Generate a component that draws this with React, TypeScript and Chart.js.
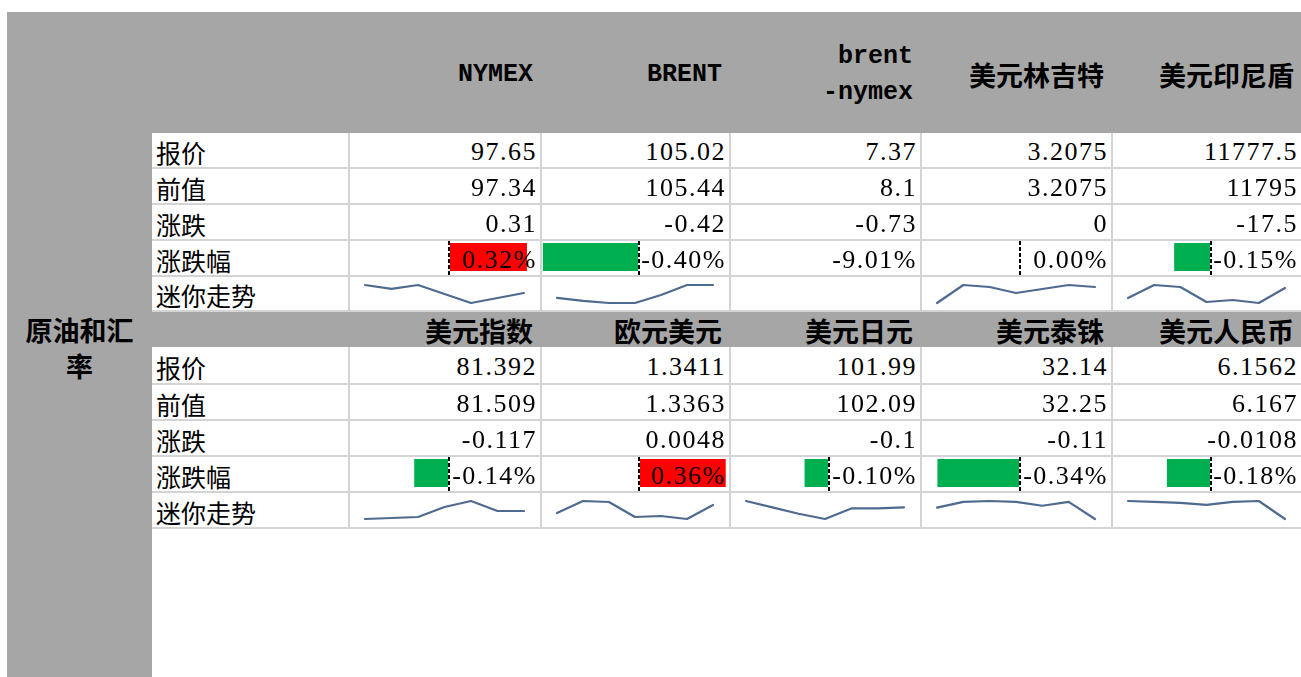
import React, { useEffect, useRef } from "react";
import { Chart, registerables } from "chart.js";
Chart.register(...registerables);

// ---------------- data ----------------
const groupTitleLines = ["原油和汇", "率"];
const rowLabels = ["报价", "前值", "涨跌", "涨跌幅", "迷你走势"];

const g1Names = ["NYMEX", "BRENT", "brent\n-nymex", "美元林吉特", "美元印尼盾"];
const g1Price = [97.65, 105.02, 7.37, 3.2075, 11777.5];
const g1Prev = [97.34, 105.44, 8.1, 3.2075, 11795];
const g1Change = [0.31, -0.42, -0.73, 0, -17.5];
const g1Pct = [0.32, -0.4, -9.01, 0.0, -0.15];
const g1PctBar = [true, true, false, true, true];
const g1Spark: (number[] | null)[] = [
  [98.4, 98.07, 98.4, 97.65, 96.9, 97.32, 97.73],
  [104.62, 104.37, 104.2, 104.2, 104.87, 105.7, 105.7],
  null,
  [3.1898, 3.215, 3.2122, 3.2038, 3.2094, 3.215, 3.2122],
  [11770, 11900, 11880, 11730, 11750, 11720, 11870],
];

const g2Names = ["美元指数", "欧元美元", "美元日元", "美元泰铢", "美元人民币"];
const g2Price = [81.392, 1.3411, 101.99, 32.14, 6.1562];
const g2Prev = [81.509, 1.3363, 102.09, 32.25, 6.167];
const g2Change = [-0.117, 0.0048, -0.1, -0.11, -0.0108];
const g2Pct = [-0.14, 0.36, -0.1, -0.34, -0.18];
const g2PctBar = [true, true, true, true, true];
const g2Spark: (number[] | null)[] = [
  [81.24, 81.26, 81.28, 81.48, 81.6, 81.4, 81.4],
  [1.339, 1.345, 1.3445, 1.337, 1.3375, 1.336, 1.343],
  [102.6, 102.3, 102.0, 101.75, 102.25, 102.25, 102.3],
  [32.295, 32.385, 32.4, 32.385, 32.325, 32.385, 32.115],
  [6.17, 6.169, 6.168, 6.166, 6.169, 6.17, 6.151],
];
const sparkLabels = ["1", "2", "3", "4", "5", "6", "7"];
const pctAxisMin = -0.405;
const pctAxisMax = 0.375;

// ---------------- layout / style ----------------
const GRAY = "#a6a6a6";
const LINE = "#d4d4d4";
const colLeft = [348, 540, 729, 920, 1111];
const colRight = [540, 729, 920, 1111, 1301];
const topRows = [
  { y: 133, h: 34 },
  { y: 169, h: 34 },
  { y: 205, h: 34 },
  { y: 241, h: 34 },
  { y: 277, h: 33 },
];
const botRows = [
  { y: 347, h: 36 },
  { y: 385, h: 34 },
  { y: 421, h: 34 },
  { y: 457, h: 34 },
  { y: 493, h: 34 },
];
const NUM_FONT = "'Liberation Serif', serif";
const HEAD_FONT = "'Liberation Mono', monospace";
const CJK_FONT = "'Noto Sans CJK SC', sans-serif";

function Spark({ values, x, y, w, h }: { values: number[]; x: number; y: number; w: number; h: number }) {
  const ref = useRef<HTMLCanvasElement>(null);
  useEffect(() => {
    const mn = Math.min(...values);
    const mx = Math.max(...values);
    const chart = new Chart(ref.current!, {
      type: "line",
      data: {
        labels: sparkLabels,
        datasets: [
          {
            data: values,
            borderColor: "#4f6a8f",
            borderWidth: 2.2,
            pointRadius: 0,
            tension: 0,
            clip: false as any,
            borderJoinStyle: "round",
            borderCapStyle: "round",
          },
        ],
      },
      options: {
        responsive: false,
        animation: false,
        events: [],
        layout: { padding: { left: 15, right: 16, top: 8, bottom: h - 26 } },
        plugins: { legend: { display: false }, tooltip: { enabled: false } },
        scales: {
          x: { display: false, offset: false },
          y: { display: false, min: mn, max: mx },
        },
      },
    });
    return () => chart.destroy();
  }, []);
  return <canvas ref={ref} width={w} height={h} style={{ position: "absolute", left: x, top: y, width: w, height: h }} />;
}

const axisPlugin = {
  id: "dbAxis",
  afterDatasetsDraw(chart: any) {
    const ctx = chart.ctx;
    const px = Math.round(chart.scales.x.getPixelForValue(0));
    ctx.save();
    ctx.strokeStyle = "#ffffff";
    ctx.lineWidth = 2;
    ctx.beginPath();
    ctx.moveTo(px, 0);
    ctx.lineTo(px, chart.height);
    ctx.stroke();
    ctx.strokeStyle = "#000000";
    ctx.setLineDash([4, 2]);
    ctx.beginPath();
    ctx.moveTo(px, 0);
    ctx.lineTo(px, chart.height);
    ctx.stroke();
    ctx.restore();
  },
};

function DataBar({ value, x, y, w, h }: { value: number; x: number; y: number; w: number; h: number }) {
  const ref = useRef<HTMLCanvasElement>(null);
  useEffect(() => {
    const chart = new Chart(ref.current!, {
      type: "bar",
      data: {
        labels: ["v"],
        datasets: [
          {
            data: [value],
            backgroundColor: value >= 0 ? "#ff0000" : "#00b050",
            borderWidth: 0,
            barPercentage: 1,
            categoryPercentage: 1,
          },
        ],
      },
      options: {
        indexAxis: "y",
        responsive: false,
        animation: false,
        events: [],
        layout: { padding: { left: 0, right: 0, top: 2, bottom: h - 30 } },
        plugins: { legend: { display: false }, tooltip: { enabled: false } },
        scales: {
          x: { display: false, min: pctAxisMin, max: pctAxisMax },
          y: { display: false },
        },
      },
      plugins: [axisPlugin],
    });
    return () => chart.destroy();
  }, []);
  return <canvas ref={ref} width={w} height={h} style={{ position: "absolute", left: x, top: y, width: w, height: h }} />;
}

const fmt = (v: number) => String(v);
const fmtPct = (v: number) => v.toFixed(2) + "%";

function NumCell({ text, x, y, w, h }: { text: string; x: number; y: number; w: number; h: number }) {
  return (
    <div
      style={{
        position: "absolute",
        left: x,
        top: y,
        width: w,
        height: h,
        display: "flex",
        alignItems: "center",
        justifyContent: "flex-end",
        paddingRight: 3,
        paddingTop: 4,
        boxSizing: "border-box",
        font: `26px ${NUM_FONT}`,
        letterSpacing: "1.5px",
        color: "#000",
        whiteSpace: "pre",
        zIndex: 2,
      }}
    >
      {text}
    </div>
  );
}

function Header({ name, x, y, w, h }: { name: string; x: number; y: number; w: number; h: number }) {
  const latin = /^[\x00-\x7f\n]+$/.test(name);
  const lines = name.split("\n");
  return (
    <div
      style={{
        position: "absolute",
        left: x,
        top: y,
        width: w,
        height: h,
        display: "flex",
        flexDirection: "column",
        justifyContent: "center",
        alignItems: "flex-end",
        paddingRight: 7,
        paddingTop: 5,
        boxSizing: "border-box",
        font: latin ? `bold 25px ${HEAD_FONT}` : `bold 27px ${CJK_FONT}`,
        lineHeight: "36px",
        color: "#000",
      }}
    >
      {lines.map((l, i) => (
        <div key={i}>{l}</div>
      ))}
    </div>
  );
}

function Section({
  rows,
  price,
  prev,
  change,
  pct,
  pctBar,
  spark,
}: {
  rows: { y: number; h: number }[];
  price: number[];
  prev: number[];
  change: number[];
  pct: number[];
  pctBar: boolean[];
  spark: (number[] | null)[];
}) {
  const els: any[] = [];
  const top = rows[0].y;
  const bottom = rows[rows.length - 1].y + rows[rows.length - 1].h;
  rows.forEach((r, i) => {
    els.push(
      <div key={"hl" + i} style={{ position: "absolute", left: 152, top: r.y + r.h, width: 1301 - 152, height: 2, background: LINE }} />
    );
    els.push(
      <div
        key={"lab" + i}
        style={{
          position: "absolute",
          left: 152,
          top: r.y,
          width: 196,
          height: r.h,
          display: "flex",
          alignItems: "center",
          paddingLeft: 4,
          paddingTop: 3,
          boxSizing: "border-box",
          font: `25px ${CJK_FONT}`,
          color: "#000",
        }}
      >
        {rowLabels[i]}
      </div>
    );
  });
  colLeft.forEach((cl, c) => {
    els.push(<div key={"vl" + c} style={{ position: "absolute", left: cl, top: top, width: 2, height: bottom - top + 2, background: LINE }} />);
    const x = cl + 2;
    const w = colRight[c] - x;
    const vals = [fmt(price[c]), fmt(prev[c]), fmt(change[c])];
    vals.forEach((t, i) => {
      els.push(<NumCell key={`n${c}_${i}`} text={t} x={x} y={rows[i].y} w={w} h={rows[i].h} />);
    });
    if (pctBar[c]) {
      els.push(<DataBar key={`db${c}`} value={pct[c]} x={x} y={rows[3].y} w={w} h={rows[3].h} />);
    }
    els.push(<NumCell key={`p${c}`} text={fmtPct(pct[c])} x={x} y={rows[3].y} w={w} h={rows[3].h} />);
    const s = spark[c];
    if (s) {
      els.push(<Spark key={`s${c}`} values={s} x={x} y={rows[4].y} w={w} h={rows[4].h} />);
    }
  });
  return <>{els}</>;
}

export default function App() {
  return (
    <div style={{ position: "absolute", left: 0, top: 0, width: 1301, height: 677, background: "#fff", overflow: "hidden" }}>
      <div style={{ position: "absolute", left: 7, top: 12, width: 1301 - 7, height: 121, background: GRAY }} />
      <div style={{ position: "absolute", left: 7, top: 12, width: 145, height: 677 - 12, background: GRAY }} />
      <div style={{ position: "absolute", left: 152, top: 310, width: 1301 - 152, height: 37, background: GRAY }} />
      <div
        style={{
          position: "absolute",
          left: 7,
          top: 312,
          width: 145,
          textAlign: "center",
          font: `bold 27px ${CJK_FONT}`,
          lineHeight: "36px",
          color: "#000",
        }}
      >
        {groupTitleLines.map((l, i) => (
          <div key={i}>{l}</div>
        ))}
      </div>
      {g1Names.map((n, c) => (
        <Header key={"h1" + c} name={n} x={colLeft[c]} y={12} w={colRight[c] - colLeft[c]} h={121} />
      ))}
      {g2Names.map((n, c) => (
        <Header key={"h2" + c} name={n} x={colLeft[c]} y={310} w={colRight[c] - colLeft[c]} h={37} />
      ))}
      <Section rows={topRows} price={g1Price} prev={g1Prev} change={g1Change} pct={g1Pct} pctBar={g1PctBar} spark={g1Spark} />
      <Section rows={botRows} price={g2Price} prev={g2Prev} change={g2Change} pct={g2Pct} pctBar={g2PctBar} spark={g2Spark} />
    </div>
  );
}
